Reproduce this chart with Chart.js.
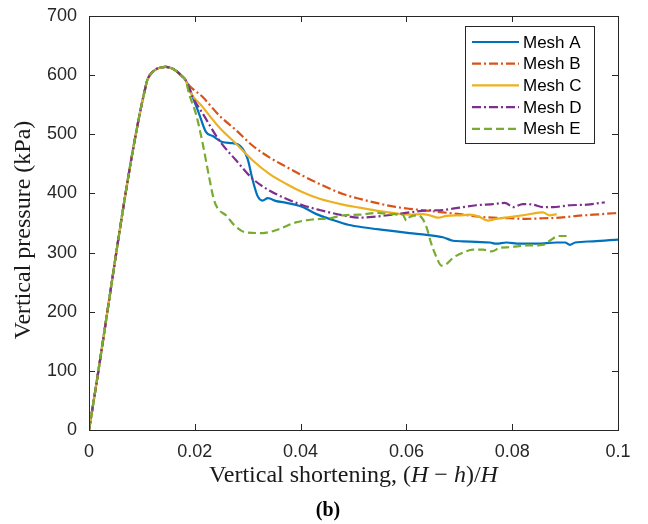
<!DOCTYPE html>
<html><head><meta charset="utf-8">
<script src="https://cdn.jsdelivr.net/npm/chart.js@4/dist/chart.umd.min.js"></script>
<style>html,body{margin:0;padding:0;background:#fff;}#wrap{width:648px;height:524px;}</style>
</head><body><div id="wrap"><canvas id="c" width="648" height="524"></canvas></div>
<script>
const xTickValues = [0, 0.02, 0.04, 0.06, 0.08, 0.1];
const xTickLabels = ['0', '0.02', '0.04', '0.06', '0.08', '0.1'];
const yTickValues = [0, 100, 200, 300, 400, 500, 600, 700];
const yTickLabels = ['0', '100', '200', '300', '400', '500', '600', '700'];
const seriesNames = ['Mesh A', 'Mesh B', 'Mesh C', 'Mesh D', 'Mesh E'];

// common loading branch (all meshes)
const riseX = [0, 0.0109, 0.0115, 0.0125, 0.0135, 0.0145, 0.0155, 0.0165, 0.0175, 0.0183];
const riseY = [0, 588, 600, 609, 613, 614, 612, 607, 599, 591];

const meshAX = [0.0189, 0.0196, 0.0208, 0.0221, 0.0234, 0.0252, 0.0271, 0.0281, 0.0290, 0.0300, 0.0309, 0.0319, 0.0328, 0.0338, 0.0354, 0.0369, 0.0385, 0.0404, 0.0430, 0.0461, 0.0490, 0.0524, 0.0560, 0.0606, 0.0638, 0.0669, 0.0688, 0.0707, 0.0732, 0.0758, 0.0770, 0.0789, 0.0814, 0.0846, 0.0884, 0.0900, 0.0909, 0.0919, 0.0953, 0.1];
const meshAY = [580, 563, 535, 504, 497, 487, 485, 483, 476, 458, 424, 395, 388, 392, 387, 385, 382, 377, 365, 355, 347, 342, 338, 333, 330, 326, 320, 319, 318, 317, 315, 317, 315, 315, 317, 317, 313, 317, 319, 322];

const meshBX = [0.0189, 0.0215, 0.0246, 0.0278, 0.0309, 0.0341, 0.0373, 0.0404, 0.0436, 0.0480, 0.0511, 0.0543, 0.0574, 0.0606, 0.0638, 0.0669, 0.0701, 0.0732, 0.0764, 0.0795, 0.0827, 0.0858, 0.0890, 0.0922, 0.0953, 0.1];
const meshBY = [583, 563, 532, 507, 481, 461, 445, 430, 416, 399, 391, 384, 378, 374, 371, 368, 365, 361, 359, 358, 357, 358, 359, 362, 364, 367];

const meshCX = [0.0189, 0.0215, 0.0246, 0.0278, 0.0309, 0.0341, 0.0373, 0.0404, 0.0436, 0.0480, 0.0511, 0.0543, 0.0574, 0.0606, 0.0631, 0.0644, 0.0660, 0.0676, 0.0701, 0.0720, 0.0739, 0.0754, 0.0770, 0.0795, 0.0827, 0.0858, 0.0871, 0.0884];
const meshCY = [575, 546, 512, 484, 456, 433, 416, 402, 391, 381, 376, 371, 367, 364, 365, 363, 359, 362, 363, 364, 360, 354, 357, 360, 364, 368, 363, 365];

const meshDX = [0.0196, 0.0215, 0.0246, 0.0278, 0.0309, 0.0341, 0.0373, 0.0404, 0.0436, 0.0480, 0.0511, 0.0543, 0.0574, 0.0606, 0.0638, 0.0669, 0.0701, 0.0732, 0.0764, 0.0786, 0.0802, 0.0820, 0.0839, 0.0858, 0.0877, 0.0909, 0.0941, 0.0975];
const meshDY = [563, 535, 490, 456, 425, 405, 391, 380, 372, 363, 359, 361, 364, 368, 371, 372, 376, 380, 382, 384, 377, 382, 381, 377, 377, 380, 381, 385];

const meshEX = [0.0189, 0.0202, 0.0215, 0.0227, 0.0236, 0.0243, 0.0259, 0.0275, 0.0297, 0.0328, 0.0360, 0.0391, 0.0423, 0.0455, 0.0480, 0.0511, 0.0543, 0.0574, 0.0593, 0.0600, 0.0606, 0.0619, 0.0628, 0.0638, 0.0647, 0.0657, 0.0666, 0.0676, 0.0688, 0.0707, 0.0726, 0.0745, 0.0761, 0.0777, 0.0795, 0.0827, 0.0858, 0.0871, 0.0887, 0.0903, 0.0909];
const meshEY = [569, 535, 484, 428, 390, 375, 363, 346, 334, 333, 340, 351, 356, 358, 363, 364, 367, 365, 364, 354, 360, 363, 360, 343, 315, 292, 278, 281, 291, 300, 305, 305, 302, 308, 309, 312, 313, 320, 328, 328, 326];

const colors = ['#0072BD', '#D95319', '#EDB120', '#7E2F8E', '#77AC30'];
const dashes = [[], [9, 3, 2, 3], [], [9, 3, 2, 3], [8, 4]];

function pts(xs, ys) {
  const all = riseX.map((v, i) => ({x: v, y: riseY[i]}));
  xs.forEach((v, i) => all.push({x: v, y: ys[i]}));
  return all;
}
const seriesX = [meshAX, meshBX, meshCX, meshDX, meshEX];
const seriesY = [meshAY, meshBY, meshCY, meshDY, meshEY];

const datasets = seriesNames.map((n, i) => ({
  label: n,
  data: pts(seriesX[i], seriesY[i]),
  borderColor: colors[i],
  backgroundColor: colors[i],
  borderWidth: 2.2,
  borderDash: dashes[i],
  pointRadius: 0,
  fill: false,
  cubicInterpolationMode: 'monotone',
  order: 5 - i
}));

const AX = '#262626';
const frame = {
  id: 'frame',
  afterDraw(chart) {
    const {ctx, chartArea: a, scales: {x, y}} = chart;
    ctx.save();
    ctx.strokeStyle = AX;
    ctx.lineWidth = 1;
    ctx.beginPath();
    xTickValues.forEach(v => {
      const px = Math.round(x.getPixelForValue(v)) + 0.5;
      ctx.moveTo(px, a.bottom); ctx.lineTo(px, a.bottom - 6);
      ctx.moveTo(px, a.top); ctx.lineTo(px, a.top + 6);
    });
    yTickValues.forEach(v => {
      const py = Math.round(y.getPixelForValue(v)) + 0.5;
      ctx.moveTo(a.left, py); ctx.lineTo(a.left + 6, py);
      ctx.moveTo(a.right, py); ctx.lineTo(a.right - 6, py);
    });
    ctx.stroke();
    ctx.strokeRect(Math.round(a.left) + 0.5, Math.round(a.top) + 0.5, Math.round(a.right - a.left), Math.round(a.bottom - a.top));

    // x title with italic math
    const parts = [['Vertical shortening, ', false], ['(', false], ['H', true], [' \u2212 ', false], ['h', true], [')/', false], ['H', true]];
    const fs = 24;
    let total = 0;
    parts.forEach(p => { ctx.font = (p[1] ? 'italic ' : '') + fs + 'px "Liberation Serif"'; total += ctx.measureText(p[0]).width; });
    let cx = (a.left + a.right) / 2 - total / 2;
    ctx.fillStyle = '#1a1a1a';
    ctx.textBaseline = 'alphabetic';
    ctx.textAlign = 'left';
    parts.forEach(p => { ctx.font = (p[1] ? 'italic ' : '') + fs + 'px "Liberation Serif"'; ctx.fillText(p[0], cx, 482); cx += ctx.measureText(p[0]).width; });

    // y title
    ctx.save();
    ctx.translate(24, 230);
    ctx.rotate(-Math.PI / 2);
    ctx.font = '24px "Liberation Serif"';
    ctx.textAlign = 'center';
    ctx.textBaseline = 'middle';
    ctx.fillText('Vertical pressure (kPa)', 0, 0);
    ctx.restore();

    // panel label
    ctx.font = 'bold 20px "Liberation Serif"';
    ctx.textAlign = 'center';
    ctx.textBaseline = 'middle';
    ctx.fillStyle = '#000';
    ctx.fillText('(b)', 328, 511);

    // legend
    const lx = 465.5, ly = 26.5, lw = 129, lh = 117;
    ctx.fillStyle = '#fff';
    ctx.fillRect(lx, ly, lw, lh);
    ctx.strokeStyle = AX;
    ctx.lineWidth = 1;
    ctx.strokeRect(lx, ly, lw, lh);
    ctx.font = '17px "Liberation Sans"';
    ctx.textAlign = 'left';
    ctx.textBaseline = 'middle';
    seriesNames.forEach((n, i) => {
      const ry = 42 + i * 21.7;
      ctx.save();
      ctx.strokeStyle = colors[i];
      ctx.lineWidth = 2.2;
      ctx.setLineDash(dashes[i]);
      ctx.beginPath();
      ctx.moveTo(472, ry); ctx.lineTo(519, ry);
      ctx.stroke();
      ctx.restore();
      ctx.fillStyle = '#000';
      ctx.fillText(n, 523, ry + 1);
    });
    ctx.restore();
  }
};

new Chart(document.getElementById('c'), {
  type: 'line',
  data: {datasets},
  options: {
    responsive: false,
    animation: false,
    devicePixelRatio: 1,
    layout: {padding: {left: 0, right: 30, top: 16, bottom: 0}},
    plugins: {legend: {display: false}, tooltip: {enabled: false}},
    scales: {
      x: {
        type: 'linear', min: 0, max: 0.1,
        afterFit(s) { s.height = 94; s.paddingLeft = 0; s.paddingRight = 0; },
        afterBuildTicks(s) { s.ticks = xTickValues.map(v => ({value: v})); },
        grid: {display: false, drawTicks: false},
        border: {display: false},
        ticks: {
          padding: 11, color: AX, maxRotation: 0,
          font: {family: '"Liberation Sans"', size: 18},
          callback: (v) => { const i = xTickValues.findIndex(t => Math.abs(t - v) < 1e-9); return i >= 0 ? xTickLabels[i] : ''; }
        }
      },
      y: {
        type: 'linear', min: 0, max: 700,
        afterFit(s) { s.width = 89; s.paddingTop = 0; s.paddingBottom = 0; },
        afterBuildTicks(s) { s.ticks = yTickValues.map(v => ({value: v})); },
        grid: {display: false, drawTicks: false},
        border: {display: false},
        ticks: {
          padding: 12, color: AX,
          font: {family: '"Liberation Sans"', size: 18},
          callback: (v) => { const i = yTickValues.indexOf(v); return i >= 0 ? yTickLabels[i] : ''; }
        }
      }
    }
  },
  plugins: [frame]
});
</script></body></html>
